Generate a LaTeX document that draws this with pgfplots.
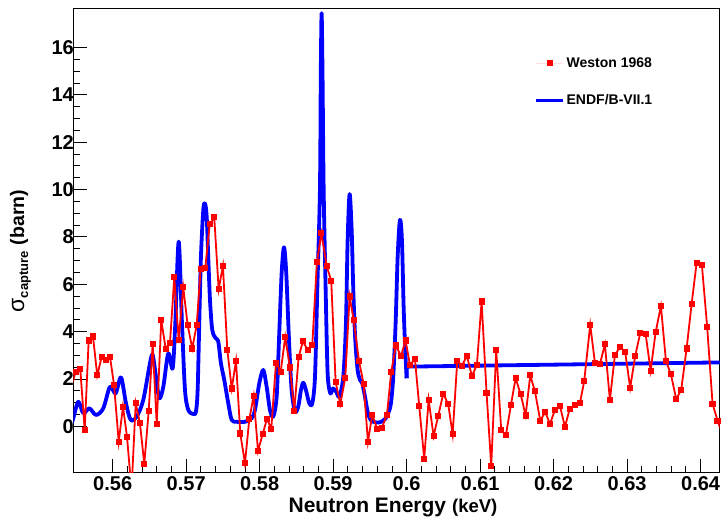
\documentclass[border=0pt]{standalone}
\usepackage{fontspec}
\setmainfont{Liberation Sans}
\usepackage{pgfplots}
\pgfplotsset{compat=1.18}
\pgfplotsset{
  mylineleg/.style={legend image code/.code={\draw[##1] (0pt,0pt) -- (27pt,0pt);}},
  mymarkleg/.style={legend image code/.code={\path[draw=none] (0pt,0pt) -- (27pt,0pt); \path[##1, draw=none] plot coordinates {(13.5pt,0pt)};}},
}
\begin{document}
\begin{tikzpicture}
\path[use as bounding box] (-73.3pt,-47.3pt) rectangle (647.7pt,472.7pt);
\begin{axis}[
  at={(0pt,0pt)}, anchor=south west,
  scale only axis, width=646.4pt, height=464.5pt,
  xmin=0.55464, xmax=0.6426, ymin=-1.96, ymax=17.66,
  axis line style={line width=1pt},
  tick align=inside, xtick pos=left, ytick pos=left,
  xtick={0.56,0.57,0.58,0.59,0.6,0.61,0.62,0.63,0.64},
  xticklabels={0.56,0.57,0.58,0.59,0.6,0.61,0.62,0.63,0.64},
  minor x tick num=4,
  ytick={0,2,4,6,8,10,12,14,16},
  yticklabels={0,2,4,6,8,10,12,14,16},
  minor y tick num=3,
  major tick length=14pt, minor tick length=7pt,
  tick style={black, line width=0.8pt},
  ticklabel style={font=\bfseries\fontsize{20}{24}\selectfont},
  yticklabel style={xshift=4pt},
  /pgf/number format/assume math mode=true,
  xlabel={\fontsize{21}{24}\selectfont\bfseries Neutron Energy\hspace{6pt}{\fontsize{18.5}{22}\selectfont (keV)}},
  xlabel style={at={(axis description cs:0.4946,-0.074)}, anchor=center},
  ylabel={{\fontsize{23}{23}\selectfont σ}\raisebox{-4pt}{\fontsize{13}{13}\selectfont\bfseries capture}\hspace{6pt}{\fontsize{19.5}{22}\selectfont\bfseries (barn)}},
  ylabel style={at={(axis description cs:-0.082,0.477)}, anchor=center},
  legend style={draw=none, fill=none, at={(axis description cs:0.708,0.903)}, anchor=north west, font=\bfseries\fontsize{14}{17}\selectfont, nodes={font=\bfseries\fontsize{14}{17}\selectfont}, row sep=22pt},
  legend cell align=left,
]
\addlegendimage{red, fill=red, mark=square*, mark size=2.6pt, mymarkleg}
\addlegendentry{Weston 1968}
\addlegendimage{blue, line width=3.5pt, mylineleg}
\addlegendentry{ENDF/B-VII.1}

\addplot[blue, line width=3.8pt, smooth, line join=round, forget plot] table {
0.55440 0.10
0.55464 0.34
0.55532 1.04
0.55600 0.55
0.55682 0.76
0.55773 0.48
0.55872 0.76
0.55963 1.67
0.56040 1.39
0.56113 2.07
0.56181 0.97
0.56245 0.27
0.56327 0.41
0.56416 1.11
0.56507 2.66
0.56544 3.01
0.56589 2.10
0.56634 1.18
0.56689 1.67
0.56756 3.08
0.56816 2.45
0.56852 4.35
0.56898 7.80
0.56943 4.35
0.56984 1.53
0.57029 0.69
0.57097 0.52
0.57133 0.62
0.57156 1.53
0.57178 4.35
0.57201 7.17
0.57233 9.14
0.57256 9.42
0.57279 8.86
0.57300 7.17
0.57324 5.34
0.57355 4.07
0.57401 3.72
0.57437 3.57
0.57473 2.66
0.57518 1.96
0.57573 0.97
0.57619 0.27
0.57687 0.19
0.57800 0.19
0.57891 0.34
0.57936 0.69
0.57995 1.82
0.58049 2.38
0.58095 1.67
0.58140 0.69
0.58185 0.41
0.58231 1.25
0.58263 3.65
0.58299 6.46
0.58331 7.56
0.58362 6.46
0.58399 3.65
0.58435 1.53
0.58481 0.62
0.58525 0.83
0.58562 1.53
0.58593 1.84
0.58630 1.53
0.58675 0.97
0.58716 0.97
0.58753 2.10
0.58784 5.76
0.58820 9.98
0.58832 15.0
0.58843 17.45
0.58855 15.0
0.58871 9.98
0.58898 5.76
0.58925 2.24
0.58962 1.39
0.58998 1.60
0.59044 1.45
0.59083 1.25
0.59138 2.10
0.59174 4.35
0.59197 7.87
0.59224 9.81
0.59252 8.29
0.59274 5.76
0.59301 3.65
0.59333 2.38
0.59365 1.96
0.59396 1.82
0.59433 1.25
0.59469 0.62
0.59510 0.27
0.59569 0.17
0.59637 0.17
0.59705 0.30
0.59750 0.55
0.59786 0.97
0.59818 2.10
0.59850 4.35
0.59878 7.17
0.59909 8.72
0.59936 7.87
0.59959 5.05
0.59981 3.22
0.60000 2.03
};
\addplot[blue, line width=3.8pt, line join=round, forget plot] table {
0.60000 2.03
0.60001 2.52
0.64300 2.70
};

\addplot[red, line width=1.8pt, mark=square*, mark size=2.2pt, mark options={solid}, forget plot] table {
0.55440 1.70
0.55497 2.31
0.55559 2.42
0.55619 -0.16
0.55673 3.62
0.55732 3.79
0.55790 2.15
0.55850 2.94
0.55905 2.79
0.55963 2.94
0.56018 1.76
0.56082 -0.65
0.56140 0.83
0.56195 -0.44
0.56256 -2.70
0.56313 0.97
0.56371 0.13
0.56430 -1.59
0.56490 0.65
0.56544 3.48
0.56599 0.10
0.56661 4.49
0.56721 3.28
0.56780 3.53
0.56838 6.29
0.56898 3.65
0.56960 5.87
0.57020 4.28
0.57083 3.29
0.57143 4.28
0.57197 6.65
0.57260 6.70
0.57320 8.53
0.57382 8.83
0.57442 5.79
0.57500 6.77
0.57560 3.22
0.57620 1.60
0.57678 2.76
0.57736 -0.30
0.57800 -1.56
0.57859 0.30
0.57918 1.28
0.57977 -1.04
0.58041 -0.33
0.58100 0.32
0.58158 -0.11
0.58222 2.69
0.58286 2.31
0.58348 3.77
0.58412 2.48
0.58471 0.66
0.58531 2.94
0.58589 3.59
0.58653 3.22
0.58716 3.43
0.58779 6.94
0.58840 8.15
0.58912 6.77
0.58974 6.14
0.59034 1.87
0.59097 0.93
0.59165 2.05
0.59224 5.48
0.59279 4.49
0.59351 2.77
0.59415 1.79
0.59473 -0.65
0.59532 0.48
0.59600 -0.11
0.59664 -0.06
0.59732 0.48
0.59790 2.29
0.59854 3.41
0.59922 2.97
0.59986 3.62
0.60045 2.59
0.60113 2.84
0.60171 0.86
0.60239 -1.37
0.60299 1.11
0.60367 -0.41
0.60430 0.44
0.60498 1.38
0.60566 0.93
0.60626 -0.34
0.60689 2.77
0.60752 2.56
0.60820 2.98
0.60888 2.12
0.60956 2.59
0.61020 5.27
0.61088 1.39
0.61151 -1.68
0.61219 3.21
0.61287 -0.16
0.61351 -0.37
0.61419 0.90
0.61483 2.03
0.61551 1.36
0.61619 0.46
0.61682 2.15
0.61746 1.48
0.61818 0.24
0.61886 0.60
0.61950 0.10
0.62018 0.69
0.62086 0.86
0.62154 -0.02
0.62218 0.72
0.62290 0.90
0.62358 0.98
0.62416 1.90
0.62498 4.28
0.62562 2.69
0.62630 2.63
0.62698 3.46
0.62766 1.11
0.62834 3.01
0.62906 3.36
0.62974 3.13
0.63042 1.63
0.63110 2.97
0.63178 3.93
0.63252 3.90
0.63320 2.35
0.63388 3.97
0.63460 5.08
0.63528 2.77
0.63596 2.20
0.63668 1.15
0.63736 1.53
0.63810 3.29
0.63878 5.17
0.63946 6.91
0.64018 6.80
0.64090 4.18
0.64163 0.94
0.64231 0.24
0.64300 -0.38
};
\end{axis}
\end{tikzpicture}
\end{document}
